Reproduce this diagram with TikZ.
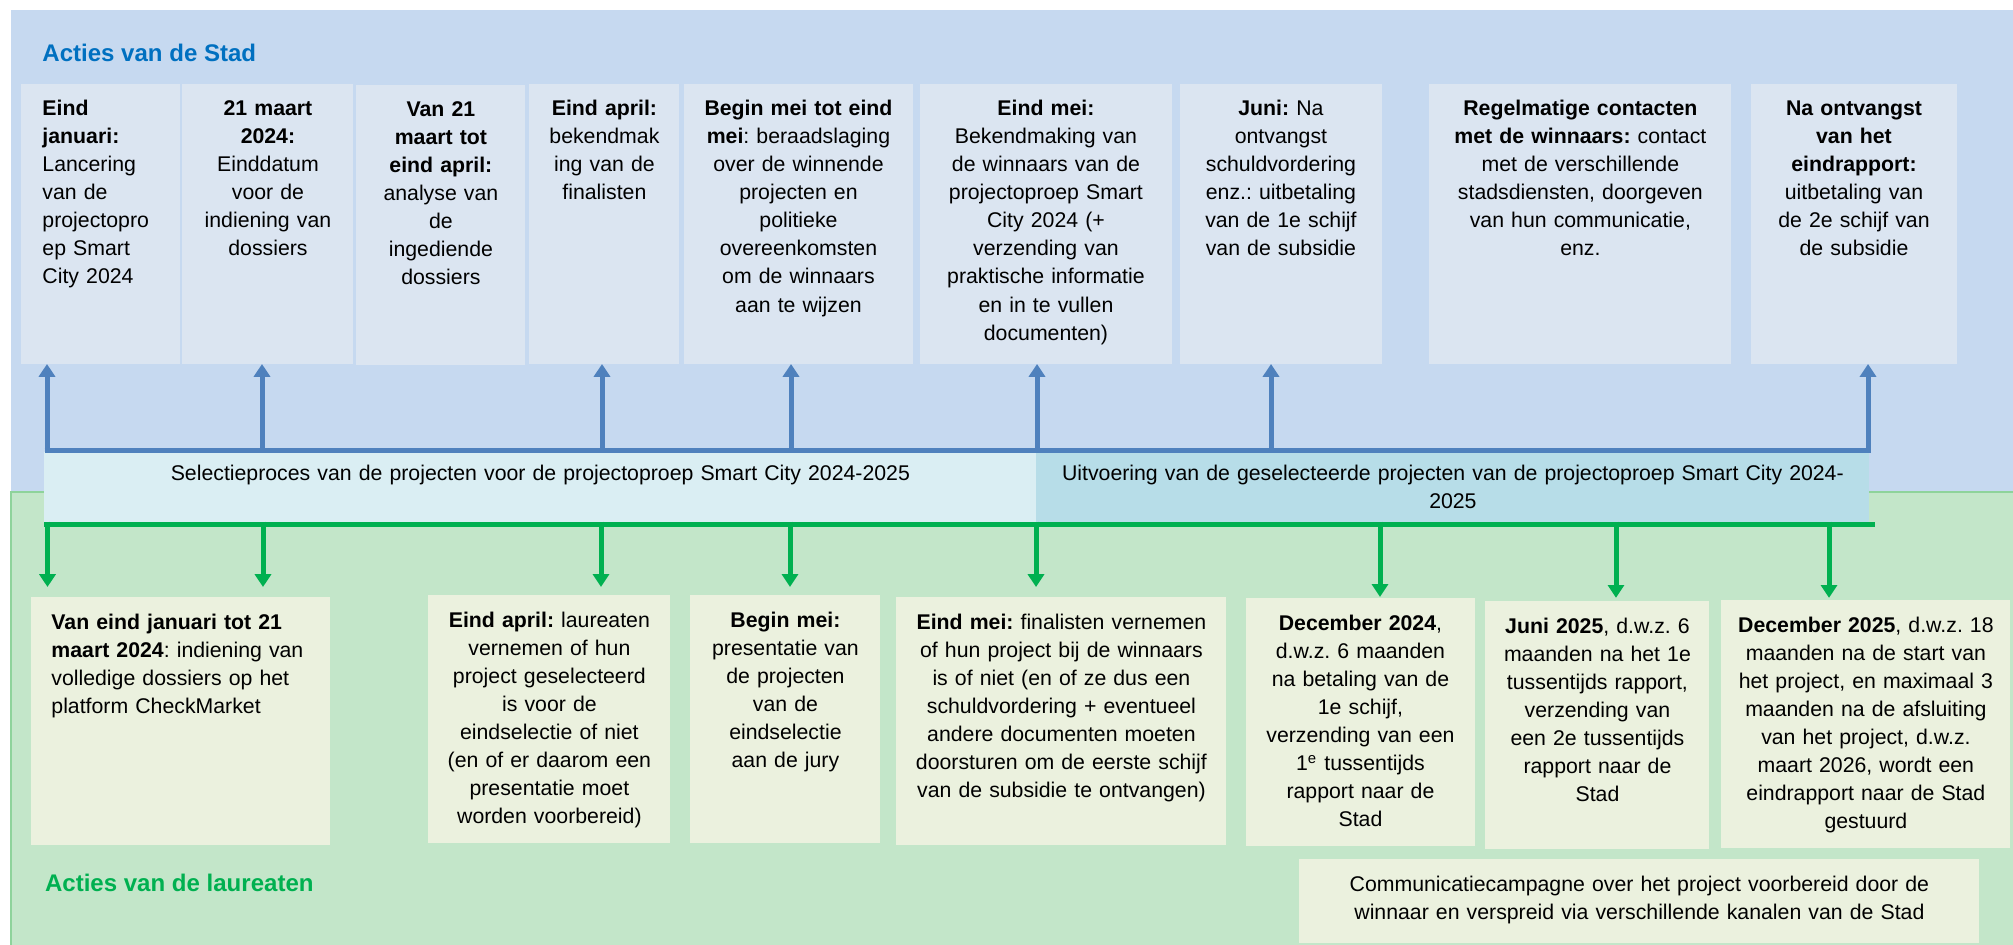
\documentclass[tikz,border=0pt]{standalone}
\usepackage{fontspec}
\setmainfont{Liberation Sans}
\usepackage{tikz}
\usetikzlibrary{arrows.meta}
\frenchspacing

\definecolor{stadbg}{HTML}{C6D9F0}
\definecolor{stadfill}{HTML}{DBE5F1}
\definecolor{stadline}{HTML}{4F81BD}
\definecolor{stadtitle}{HTML}{0070C0}
\definecolor{laurbg}{HTML}{C3E6C9}
\definecolor{laurfill}{HTML}{EBF1DE}
\definecolor{laurline}{HTML}{00B050}
\definecolor{laurborder}{HTML}{8ED39B}
\definecolor{fasea}{HTML}{DAEEF3}
\definecolor{faseb}{HTML}{B7DDE8}

\newcommand{\boxfont}{\fontsize{10pt}{13.2pt}\selectfont}
\newcommand{\titfont}{\fontsize{11.3pt}{13pt}\selectfont\bfseries}

\tikzset{
  stadbox/.style={fill=stadfill, inner sep=0pt, align=center, anchor=north west,
    text height=14.6pt, text depth=116.6pt, font=\boxfont},
  laurbox/.style={fill=laurfill, inner sep=0pt, align=center, anchor=north west,
    text height=15pt, text depth=101.5pt, font=\boxfont},
  fasebox/.style={inner sep=0pt, align=center, anchor=north west,
    text height=13.2pt, text depth=20.2pt, font=\boxfont},
  stadarrow/.style={draw=stadline, line width=2.35pt, -{Triangle[width=7.5pt,length=6pt]}},
  laurarrow/.style={draw=laurline, line width=2.35pt, -{Triangle[width=7.5pt,length=6pt]}}
}

\begin{document}
\begin{tikzpicture}[x=0.47pt, y=-0.47pt]
\useasboundingbox (0,0) rectangle (2013,945);
% the two bands
\fill[stadbg] (11,10) rectangle (2013,492);
\fill[laurbg] (11,492) rectangle (2013,945);
\draw[laurborder, line width=0.6pt] (11,945) -- (11,492) -- (2013,492);

\node[anchor=base west, inner sep=0pt, font=\titfont, text=stadtitle] (titstad) at (42,62) {Acties van de Stad};
\node[anchor=base west, inner sep=0pt, font=\titfont, text=laurline] (titlaur) at (44.6,891.7) {Acties van de laureaten};

% actions of the city
\node[stadbox, align=left, minimum width=74.3pt, text width=54.5pt] (stad1) at (21,84)
  {\textbf{Eind}\\\textbf{januari:}\\Lancering\\van de\\projectopro\\ep Smart\\City 2024};
\node[stadbox, minimum width=80.4pt, text width=76pt] (stad2) at (182,84)
  {\textbf{21 maart}\\\textbf{2024:}\\Einddatum\\voor de\\indiening van\\dossiers};
\node[stadbox, minimum width=79.4pt, text width=75pt] (stad3) at (356,85)
  {\textbf{Van 21}\\\textbf{maart tot}\\\textbf{eind april:}\\analyse van\\de\\ingediende\\dossiers};
\node[stadbox, minimum width=70.5pt, text width=66pt] (stad4) at (529,84)
  {\textbf{Eind april:}\\bekendmak\\ing van de\\finalisten};
\node[stadbox, minimum width=107.2pt, text width=103pt] (stad5) at (684,84)
  {\textbf{Begin mei tot eind}\\\textbf{mei}: beraadslaging\\over de winnende\\projecten en\\politieke\\overeenkomsten\\om de winnaars\\aan te wijzen};
\node[stadbox, minimum width=118pt, text width=114pt] (stad6) at (920,84)
  {\textbf{Eind mei:}\\Bekendmaking van\\de winnaars van de\\projectoproep Smart\\City 2024 (+\\verzending van\\praktische informatie\\en in te vullen\\documenten)};
\node[stadbox, minimum width=94.5pt, text width=90pt] (stad7) at (1180,84)
  {\textbf{Juni:} Na\\ontvangst\\schuldvordering\\enz.: uitbetaling\\van de 1e schijf\\van de subsidie};
\node[stadbox, minimum width=141.9pt, text width=138pt] (stad8) at (1429,84)
  {\textbf{Regelmatige contacten}\\\textbf{met de winnaars:} contact\\met de verschillende\\stadsdiensten, doorgeven\\van hun communicatie,\\enz.};
\node[stadbox, minimum width=96.4pt, text width=92pt] (stad9) at (1751,84)
  {\textbf{Na ontvangst}\\\textbf{van het}\\\textbf{eindrapport:}\\uitbetaling van\\de 2e schijf van\\de subsidie};

% the two phases
\node[fasebox, fill=fasea, minimum width=466.2pt, text width=460pt] (fase1) at (44,452)
  {Selectieproces van de projecten voor de projectoproep Smart City 2024-2025};
\node[fasebox, fill=faseb, minimum width=391.5pt, text width=385pt] (fase2) at (1036,452)
  {Uitvoering van de geselecteerde projecten van de projectoproep Smart City 2024-\\2025};

% actions of the winners
\node[laurbox, align=left, minimum width=140.3pt, text width=121.5pt] (laur1) at (31,597)
  {\textbf{Van eind januari tot 21}\\\textbf{maart 2024}: indiening van\\volledige dossiers op het\\platform CheckMarket};
\node[laurbox, minimum width=113.7pt, text width=110pt] (laur2) at (428,595)
  {\textbf{Eind april:} laureaten\\vernemen of hun\\project geselecteerd\\is voor de\\eindselectie of niet\\(en of er daarom een\\presentatie moet\\worden voorbereid)};
\node[laurbox, minimum width=89.3pt, text width=85pt] (laur3) at (690,595)
  {\textbf{Begin mei:}\\presentatie van\\de projecten\\van de\\eindselectie\\aan de jury};
\node[laurbox, minimum width=155.1pt, text width=151pt] (laur4) at (896,597)
  {\textbf{Eind mei:} finalisten vernemen\\of hun project bij de winnaars\\is of niet (en of ze dus een\\schuldvordering + eventueel\\andere documenten moeten\\doorsturen om de eerste schijf\\van de subsidie te ontvangen)};
\node[laurbox, minimum width=107.2pt, text width=103pt] (laur5) at (1246,598)
  {\textbf{December 2024},\\d.w.z. 6 maanden\\na betaling van de\\1e schijf,\\verzending van een\\1\textsuperscript{e} tussentijds\\rapport naar de\\Stad};
\node[laurbox, minimum width=105.3pt, text width=101pt] (laur6) at (1485,601)
  {\textbf{Juni 2025}, d.w.z. 6\\maanden na het 1e\\tussentijds rapport,\\verzending van\\een 2e tussentijds\\rapport naar de\\Stad};
\node[laurbox, minimum width=135.8pt, text width=131pt] (laur7) at (1721,600)
  {\textbf{December 2025}, d.w.z. 18\\maanden na de start van\\het project, en maximaal 3\\maanden na de afsluiting\\van het project, d.w.z.\\maart 2026, wordt een\\eindrapport naar de Stad\\gestuurd};
\node[laurbox, text depth=24.4pt, minimum width=319.6pt, text width=314pt] (laur8) at (1299,859)
  {Communicatiecampagne over het project voorbereid door de\\winnaar en verspreid via verschillende kanalen van de Stad};

% the blue bracket and its arrows
\coordinate (sl) at (44.5,450);
\coordinate (sr) at (1870.5,450);
\draw[stadline, line width=2.35pt] (sl) -- (sr);
\coordinate (s1) at (47,452.5);
\coordinate (s2) at (262,452.5);
\coordinate (s3) at (602,452.5);
\coordinate (s4) at (791,452.5);
\coordinate (s5) at (1037,452.5);
\coordinate (s6) at (1271,452.5);
\coordinate (s7) at (1868,452.5);
\draw[stadarrow] (s1) -- (s1 |- stad1.south);
\draw[stadarrow] (s2) -- (s2 |- stad2.south);
\draw[stadarrow] (s3) -- (s3 |- stad4.south);
\draw[stadarrow] (s4) -- (s4 |- stad5.south);
\draw[stadarrow] (s5) -- (s5 |- stad6.south);
\draw[stadarrow] (s6) -- (s6 |- stad7.south);
\draw[stadarrow] (s7) -- (s7 |- stad9.south);

% the green bracket and its arrows
\coordinate (gl) at (44,524);
\coordinate (gr) at (1875,524);
\draw[laurline, line width=2.35pt] (gl) -- (gr);
\coordinate (g1) at (47.5,521.5);
\coordinate (g2) at (263,521.5);
\coordinate (g3) at (601,521.5);
\coordinate (g4) at (790,521.5);
\coordinate (g5) at (1036,521.5);
\coordinate (g6) at (1380,521.5);
\coordinate (g7) at (1616,521.5);
\coordinate (g8) at (1829,521.5);
\draw[laurarrow, shorten >=4.7pt] (g1) -- (g1 |- laur1.north);
\draw[laurarrow, shorten >=4.7pt] (g2) -- (g2 |- laur1.north);
\draw[laurarrow, shorten >=3.8pt] (g3) -- (g3 |- laur2.north);
\draw[laurarrow, shorten >=3.8pt] (g4) -- (g4 |- laur3.north);
\draw[laurarrow, shorten >=4.7pt] (g5) -- (g5 |- laur4.north);
\draw[laurarrow, shorten >=0.5pt] (g6) -- (g6 |- laur5.north);
\draw[laurarrow, shorten >=1.5pt] (g7) -- (g7 |- laur6.north);
\draw[laurarrow, shorten >=1pt] (g8) -- (g8 |- laur7.north);
\end{tikzpicture}
\end{document}
